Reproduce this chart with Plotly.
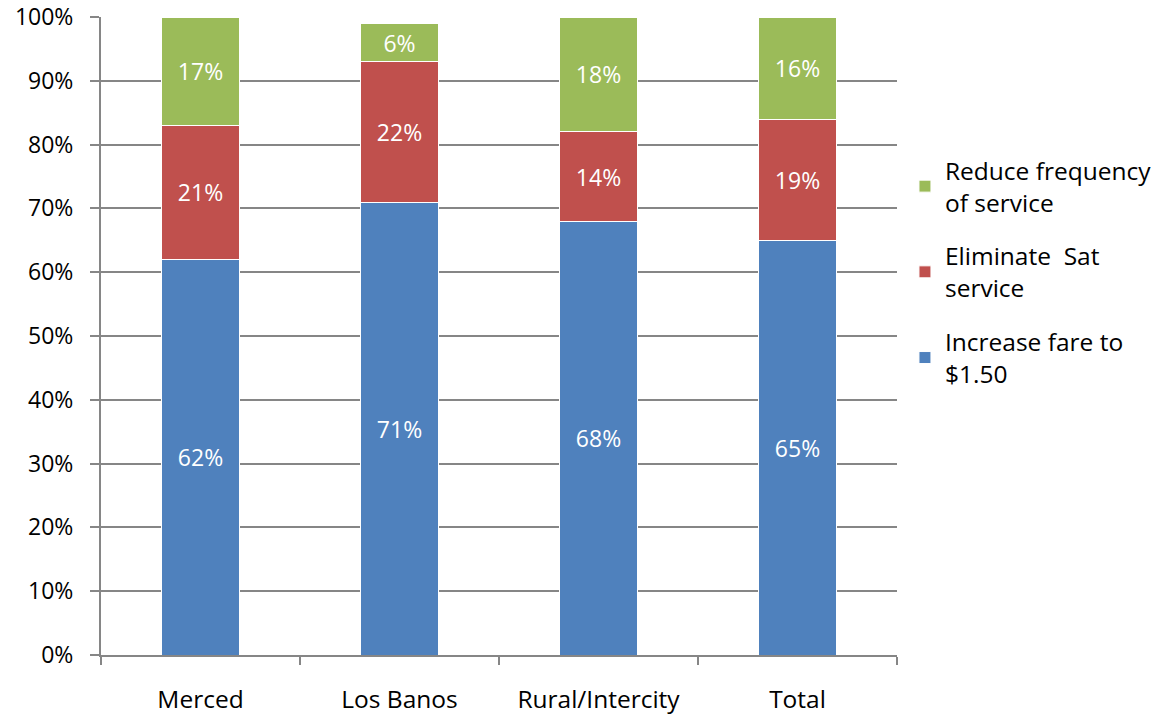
import plotly.graph_objects as go

categories = ["Merced", "Los Banos", "Rural/Intercity", "Total"]
increase_fare = [62, 71, 68, 65]
eliminate_sat = [21, 22, 14, 19]
reduce_freq = [17, 6, 18, 16]

# (legend label, values, colour, legend position from top)
series = [
    ("Increase fare to<br>$1.50", increase_fare, "#4F81BD", 3),
    ("Eliminate  Sat<br>service", eliminate_sat, "#C0504D", 2),
    ("Reduce frequency<br>of service", reduce_freq, "#9BBB59", 1),
]

FONT = "Open Sans"
SIZE = 23
GRID = "#868686"

fig = go.Figure()
for i, (name, vals, color, rank) in enumerate(series):
    fig.add_trace(go.Bar(
        x=categories, y=vals, name=name,
        marker=dict(color=color, line=dict(color="white", width=1)),
        text=[f"{v}%" for v in vals],
        textposition="inside", insidetextanchor="middle", textangle=0,
        textfont=dict(color="white", size=SIZE, family=FONT),
        legendgroup=f"g{i}", legendrank=rank,
    ))

fig.update_layout(
    width=1161, height=715,
    barmode="stack", bargap=0.61,
    margin=dict(l=101, r=264, t=17, b=60, autoexpand=False),
    plot_bgcolor="white", paper_bgcolor="white",
    font=dict(family=FONT, color="black", size=SIZE),
    uniformtext=dict(minsize=SIZE, mode="show"),
    legend=dict(
        x=1.010, xanchor="left", y=0.795, yanchor="top",
        traceorder="grouped", tracegroupgap=19,
        font=dict(size=24.5, family=FONT), itemwidth=30,
    ),
)
fig.update_yaxes(
    range=[0, 100], dtick=10, ticksuffix="%", automargin=False,
    showgrid=True, gridcolor=GRID, gridwidth=1.8,
    showline=True, linecolor=GRID, linewidth=2,
    ticks="outside", ticklen=9, tickcolor=GRID, tickwidth=1.8,
    tickfont=dict(size=SIZE), ticklabelstandoff=12, zeroline=False,
)
fig.update_xaxes(
    showline=True, linecolor=GRID, linewidth=2, automargin=False,
    ticks="outside", tickson="boundaries", ticklen=8, tickcolor=GRID, tickwidth=1.8,
    tickfont=dict(size=24.5), ticklabelstandoff=22,
)

fig.write_html("out.html")
